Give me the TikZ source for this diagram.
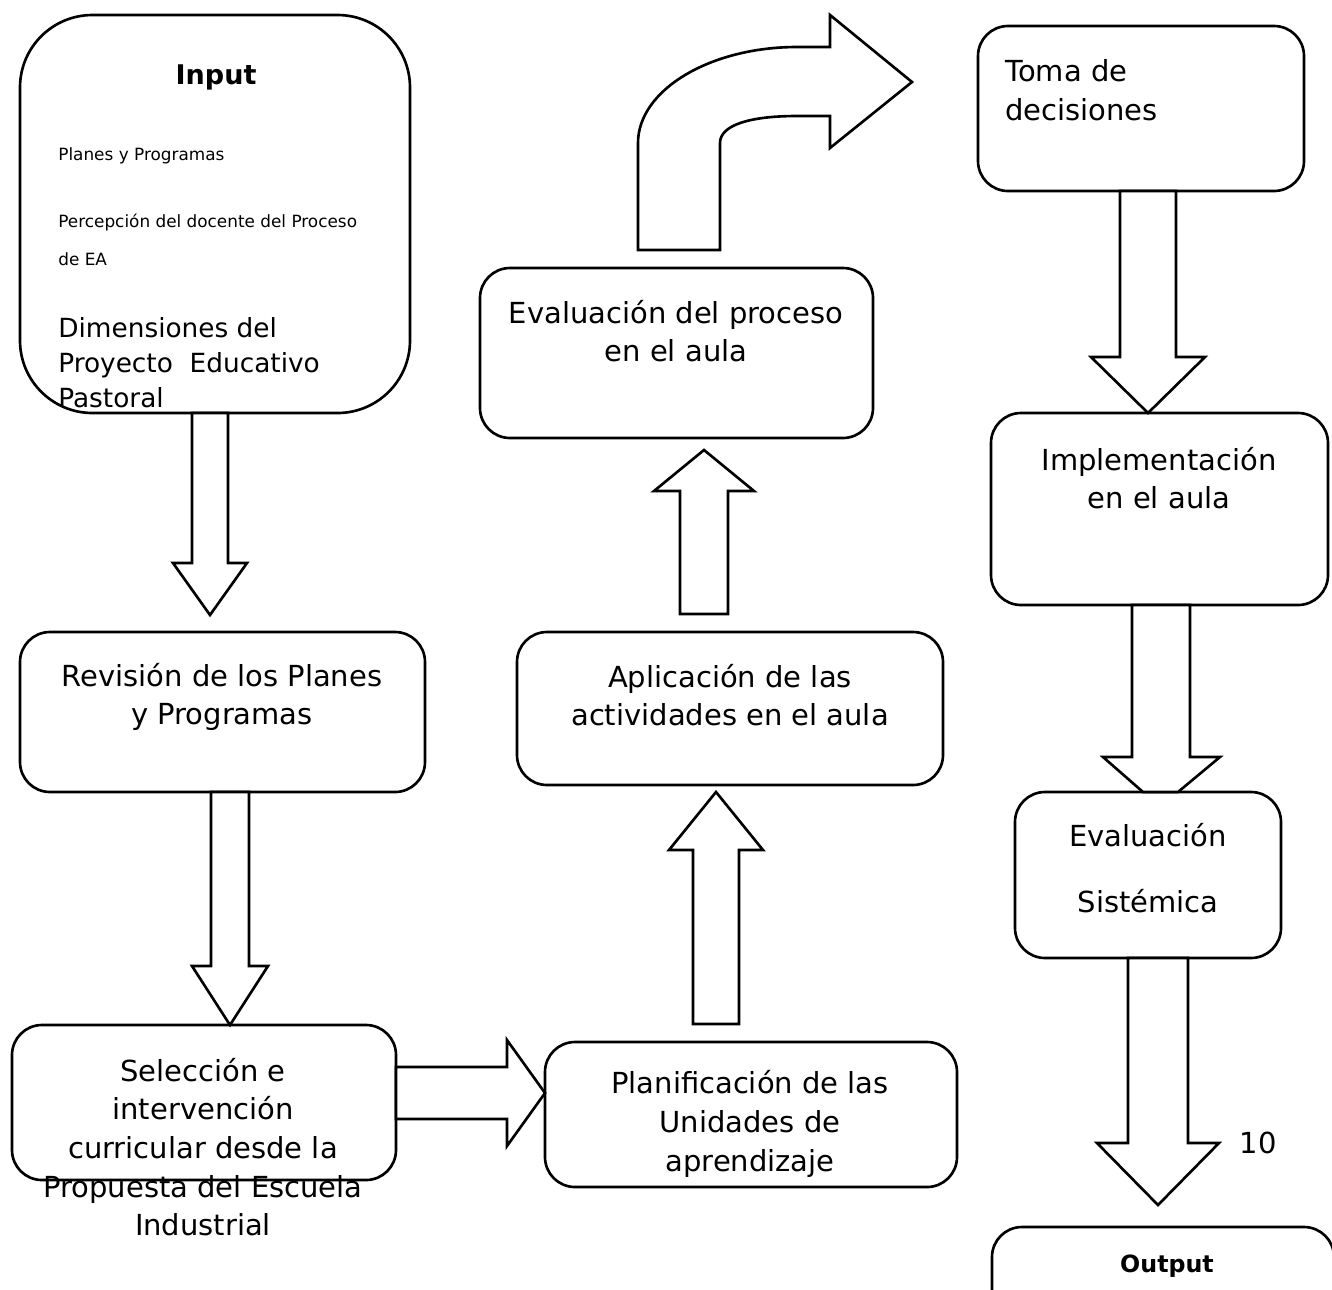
\documentclass[tikz,border=0pt]{standalone}
\usepackage{fontspec}
\setmainfont{DejaVu Sans}
\usetikzlibrary{fit,calc}
\newcommand{\linew}{1.5pt}
\newcommand{\boxradius}{0.6cm}
\newcommand{\inputradius}{1.45cm}
% vertical block arrow: start, tip, centre x, half shaft, half head, head base y
\newcommand{\blockv}[6]{\draw[blockarrow] (#3-#4,0 |- #1) -- (#3-#4,#6) -- (#3-#5,#6) -- (#3,0 |- #2) -- (#3+#5,#6) -- (#3+#4,#6) -- (#3+#4,0 |- #1) -- cycle;}
% horizontal block arrow: start, tip, centre y, half shaft, half head, head base x
\newcommand{\blockh}[6]{\draw[blockarrow] (#1 |- 0,#3-#4) -- (#6,#3-#4) -- (#6,#3-#5) -- (#2 |- 0,#3) -- (#6,#3+#5) -- (#6,#3+#4) -- (#1 |- 0,#3+#4) -- cycle;}
\begin{document}
\begin{tikzpicture}[x=0.02cm,y=-0.02cm]
\tikzstyle{box}=[draw,line width=\linew,rounded corners=\boxradius,fill=white,inner sep=0pt,outer sep=0pt]
\tikzstyle{blockarrow}=[draw,line width=\linew,fill=white,line join=miter]
\tikzstyle{txt}=[font=\fontsize{16.5}{22}\selectfont,align=center,inner sep=0pt]
\tikzstyle{smalltxt}=[font=\fontsize{9.6}{22}\selectfont,align=left,inner sep=0pt,anchor=west]

\useasboundingbox (0,0) rectangle (1332,1289);

\node (input)     [box,rounded corners=\inputradius,fit={(20,15) (410,413)}] {};
\node (revision)  [box,fit={(20,632) (425,792)}] {};
\node (seleccion) [box,fit={(12,1025) (396,1180)}] {};
\node (planif)    [box,fit={(545,1042) (957,1187)}] {};
\node (aplic)     [box,fit={(517,632) (943,785)}] {};
\node (evalproc)  [box,fit={(480,268) (873,438)}] {};
\node (toma)      [box,fit={(978,26) (1304,191)}] {};
\node (impl)      [box,fit={(991,413) (1328,605)}] {};
\node (evalsis)   [box,fit={(1015,792) (1281,958)}] {};
\node (output)    [box,fit={(992,1227) (1334,1330)}] {};

\blockv{input.south}{0,615}{210}{18}{37}{563}
\blockv{revision.south}{seleccion.north}{230}{19}{38}{966}
\blockh{seleccion.east}{planif.west}{1093}{26}{53}{507}
\blockv{0,1024}{0,792}{716}{23}{47}{850}
\blockv{0,614}{0,450}{704}{24}{50}{491}
\blockv{toma.south}{impl.north}{1148}{28}{57}{357}
\draw[blockarrow] (1132,0 |- impl.south) -- (1132,757) -- (1103,757) -- (1143,0 |- evalsis.north) -- (1178,0 |- evalsis.north) -- (1220,757) -- (1190,757) -- (1190,0 |- impl.south) -- cycle; % head hidden by the box
\blockv{evalsis.south}{0,1205}{1158}{30}{61}{1143}

% bent arrow towards the decisions
\draw[blockarrow] (638,250) -- (638,143) .. controls (638,90) and (710,47) .. (797,47) -- (830,47) -- (830,15) -- (912,82) -- (830,148) -- (830,116) -- (797,116) .. controls (750,116) and (720,125) .. (720,143) -- (720,250) -- cycle;

\node (inputtitle) [txt,font=\fontsize{15.4}{18}\selectfont\bfseries] at (216,77) {Input};
\node (planes) [smalltxt] at (58,156) {Planes y Programas};
\node (percepcion) [smalltxt] at (58,240) {Percepción del docente del Proceso\\de EA};
\node (dimensiones) [txt,align=left,anchor=west,font=\fontsize{15}{20}\selectfont] at (58,363) {Dimensiones del\\Proyecto~ Educativo\\Pastoral};
\node (revisiontxt) [txt] at (222,697) {Revisión de los Planes\\y Programas};
\node (selecciontxt) [txt] at (203,1147) {Selección e\\intervención\\curricular desde la\\Propuesta del Escuela\\Industrial};
\node (planiftxt) [txt] at (750,1124) {Planificación de las\\Unidades de\\aprendizaje};
\node (aplictxt) [txt] at (730,695) {Aplicación de las\\actividades en el aula};
\node (evalproctxt) [txt] at (676,331) {Evaluación del proceso\\en el aula};
\node (tomatxt) [txt,align=left,anchor=west] at (1005,90) {Toma de\\decisiones};
\node (impltxt) [txt] at (1159,478) {Implementación\\en el aula};
\node (evalsistxt) [txt,font=\fontsize{16.5}{38}\selectfont] at (1148,868) {Evaluación\\Sistémica};
\node (pagenum) [txt] at (1258,1143) {10};
\node (outputtitle) [txt,font=\fontsize{13.5}{16}\selectfont\bfseries] at (1167,1266) {Output};

\end{tikzpicture}
\end{document}
